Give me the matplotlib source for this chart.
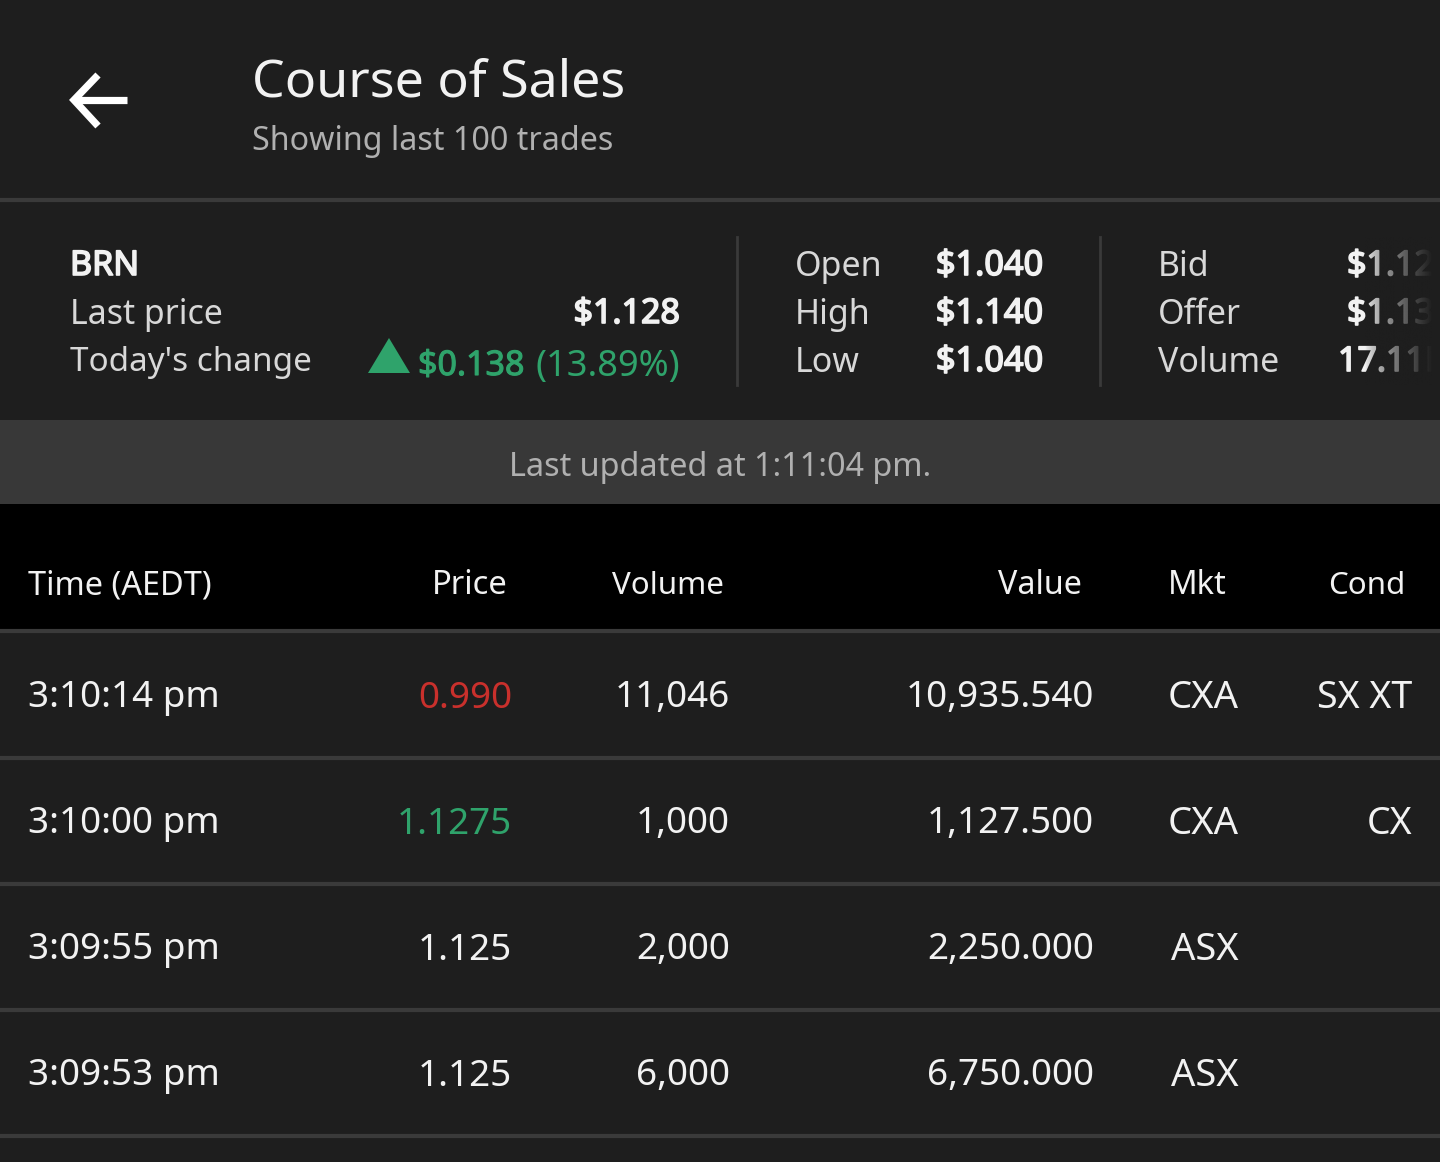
import matplotlib
matplotlib.use('Agg')
import matplotlib.pyplot as plt
import matplotlib.patheffects as pe
import numpy as np

plt.rcParams['font.family'] = ['Noto Sans', 'DejaVu Sans']

BG = '#1e1e1e'
WHITE = '#f2f2f2'
GREY = '#b0b0b0'
GREEN = '#2fa36b'
RED = '#c9302c'
LINE = '#3a3a3a'

# summary block
summary_labels = ['Last price', "Today's change"]
open_labels = ['Open', 'High', 'Low']
open_values = ['$1.040', '$1.140', '$1.040']
bid_labels = ['Bid', 'Offer', 'Volume']
bid_values = ['$1.125', '$1.130', '17.11M']

# trades table
headers = ['Time (AEDT)', 'Price', 'Volume', 'Value', 'Mkt', 'Cond']
times = ['3:10:14 pm', '3:10:00 pm', '3:09:55 pm', '3:09:53 pm']
prices = ['0.990', '1.1275', '1.125', '1.125']
price_colors = [RED, GREEN, WHITE, WHITE]
volumes = ['11,046', '1,000', '2,000', '6,000']
values = ['10,935.540', '1,127.500', '2,250.000', '6,750.000']
markets = ['CXA', 'CXA', 'ASX', 'ASX']
conds = ['SX XT', 'CX', '', '']

fig = plt.figure(figsize=(14.4, 11.62), dpi=100, facecolor=BG)
ax = fig.add_axes([0, 0, 1, 1])
ax.set_xlim(0, 1440)
ax.set_ylim(1162, 0)
ax.axis('off')


def txt(x, y, s, size=24.4, color=WHITE, ha='left', bold=0):
    t = ax.text(x, y - 1, s, fontsize=size, color=color, ha=ha, va='center_baseline')
    # Noto Sans only resolves to regular here, so thicken with a stroke
    if bold:
        t.set_path_effects([pe.withStroke(linewidth=bold, foreground=color)])


# header
ax.plot([98, 74, 98], [75, 100, 126], color='white', lw=5.2, solid_joinstyle='miter', solid_capstyle='butt')
ax.plot([76, 127], [100, 100], color='white', lw=5.2, solid_capstyle='butt')
txt(252, 78, 'Course of Sales', size=37.4)
txt(252, 139, 'Showing last 100 trades', size=23.2, color=GREY)
ax.plot([0, 1440], [200, 200], color=LINE, lw=3)

# summary
txt(70, 263, 'BRN', size=24.5, bold=1.2)
txt(70, 311.5, summary_labels[0], color='#d8d8d8')
txt(70, 359.5, summary_labels[1], size=23.9, color='#d8d8d8')
txt(680, 311, '$1.128', size=24.5, ha='right', bold=1.2)
ax.fill([368, 410, 389], [373, 373, 338], color=GREEN, lw=0)
txt(418, 363, '$0.138', size=24.5, color=GREEN, bold=0.8)
txt(680, 363, '(13.89%)', size=26.1, color=GREEN, ha='right')
ax.plot([737, 737], [237, 385], color=LINE, lw=2)
ax.plot([1100, 1100], [237, 385], color=LINE, lw=2)
for i, y in enumerate([263, 311, 359]):
    txt(795, y + 0.5, open_labels[i], color='#d8d8d8')
    txt(1043, y, open_values[i], size=24.7, ha='right', bold=1.2)
    txt(1158, y + 0.5, bid_labels[i], color='#d8d8d8')
    txt(1338 if i == 2 else 1347, y, bid_values[i], size=24.5, bold=1.2)

# fade the clipped right edge of the summary
fade = np.zeros((1, 100, 4))
fade[..., :3] = matplotlib.colors.to_rgb(BG)
fade[..., 3] = np.linspace(0, 1, 100) ** 0.7
ax.imshow(fade, extent=(1365, 1432, 385, 237), aspect='auto', zorder=5)
ax.fill_between([1432, 1440], 237, 385, color=BG, lw=0, zorder=5)
ax.set_xlim(0, 1440)
ax.set_ylim(1162, 0)

# last updated bar
ax.fill_between([0, 1440], 420, 504, color='#383838', lw=0)
txt(720, 464, 'Last updated at 1:11:04 pm.', size=23.3, color=GREY, ha='center')

# column headers
ax.fill_between([0, 1440], 504, 630, color='black', lw=0)
ax.plot([0, 1440], [631, 631], color=LINE, lw=3)
txt(28, 583, headers[0], size=23.4)
txt(508, 583, headers[1], size=23.6, ha='right')
txt(724, 583, headers[2], size=22.5, ha='right')
txt(1082, 583, headers[3], size=23.2, ha='right')
txt(1168, 583, headers[4], size=23.6)
txt(1405, 583, headers[5], size=22.5, ha='right')

# rows
for i in range(len(times)):
    y = 695 + i * 126
    txt(28, y, times[i], size=26.5)
    txt(512, y, prices[i], size=26.5, color=price_colors[i], ha='right')
    txt(730, y, volumes[i], size=26.5, ha='right')
    txt(1094, y, values[i], size=26.5, ha='right')
    txt(1239, y, markets[i], size=27.5, ha='right')
    txt(1412, y, conds[i], size=27, ha='right')
    ax.plot([0, 1440], [y + 63, y + 63], color=LINE, lw=3)

fig.savefig('out.png', dpi=100, facecolor=BG)
